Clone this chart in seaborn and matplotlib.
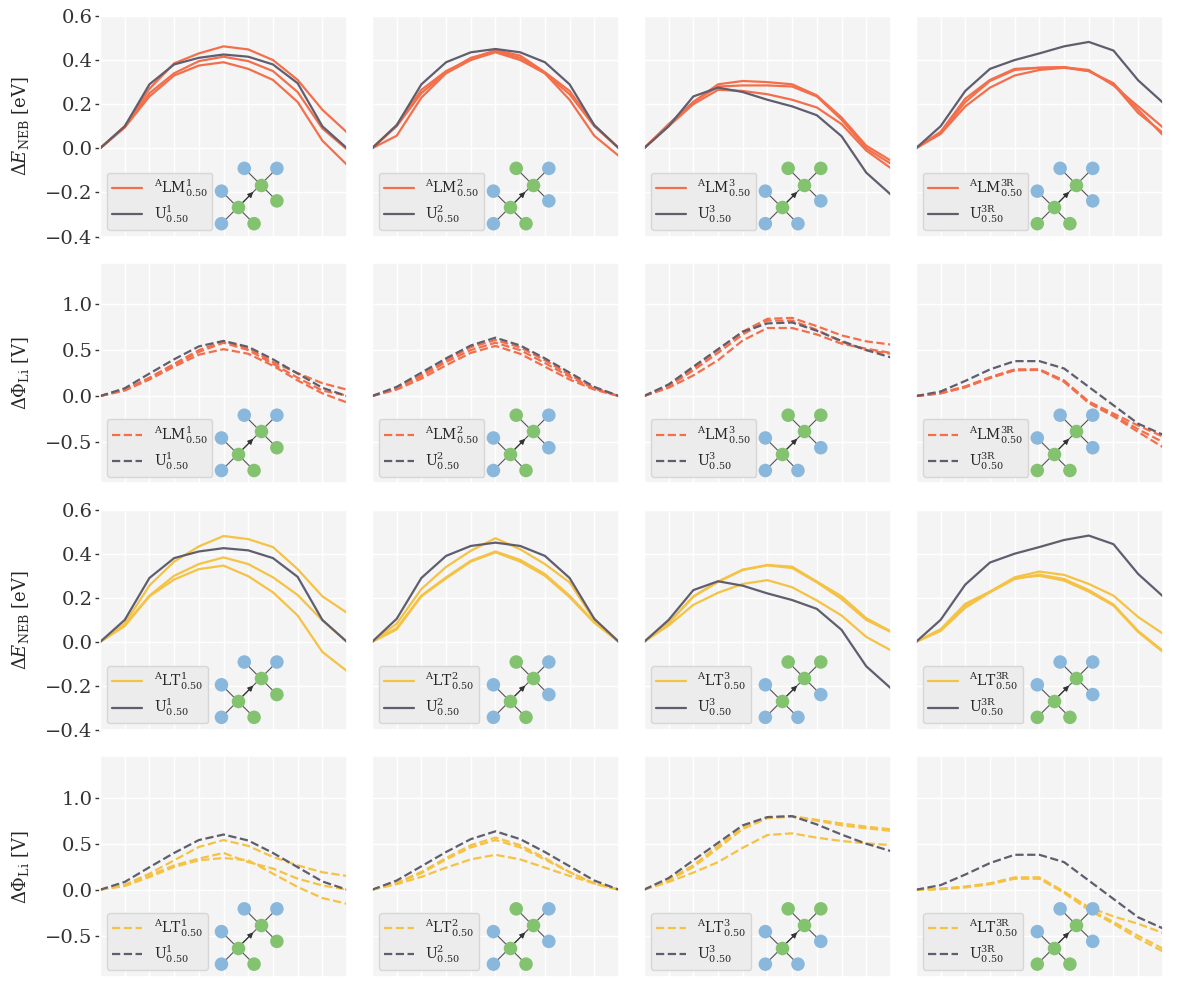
import matplotlib
matplotlib.use("Agg")
import matplotlib.pyplot as plt
from matplotlib.lines import Line2D
import seaborn as sns

# NEB image index along the hopping path
IMAGES = [0, 1, 2, 3, 4, 5, 6, 7, 8, 9, 10]
SYSTEMS = ["1", "2", "3", "3R"]

# --- energy barriers dE_NEB [eV] ---
E_U1 = [0, 0.10, 0.29, 0.38, 0.41, 0.425, 0.415, 0.38, 0.295, 0.10, 0.0]
E_U2 = [0, 0.105, 0.29, 0.39, 0.435, 0.45, 0.435, 0.39, 0.29, 0.105, 0.0]
E_U3 = [0, 0.10, 0.235, 0.275, 0.255, 0.22, 0.19, 0.15, 0.055, -0.11, -0.21]
E_U3R = [0, 0.10, 0.26, 0.36, 0.40, 0.43, 0.462, 0.482, 0.443, 0.308, 0.207]

E_LM1 = [[0, 0.10, 0.27, 0.385, 0.43, 0.462, 0.448, 0.40, 0.31, 0.175, 0.072],
         [0, 0.095, 0.25, 0.34, 0.395, 0.415, 0.395, 0.35, 0.255, 0.09, -0.005],
         [0, 0.095, 0.235, 0.33, 0.375, 0.39, 0.36, 0.31, 0.21, 0.035, -0.075]]
E_LM2 = [[0, 0.057, 0.23, 0.34, 0.40, 0.435, 0.40, 0.34, 0.22, 0.057, -0.035],
         [0, 0.10, 0.25, 0.345, 0.41, 0.44, 0.41, 0.34, 0.245, 0.10, 0.0],
         [0, 0.105, 0.265, 0.35, 0.405, 0.445, 0.42, 0.345, 0.26, 0.105, 0.0]]
E_LM3 = [[0, 0.11, 0.21, 0.29, 0.305, 0.30, 0.29, 0.24, 0.14, 0.012, -0.056],
         [0, 0.105, 0.21, 0.28, 0.285, 0.285, 0.28, 0.235, 0.13, 0.0, -0.07],
         [0, 0.10, 0.20, 0.265, 0.26, 0.245, 0.22, 0.185, 0.11, -0.01, -0.09]]
E_LM3R = [[0, 0.065, 0.19, 0.275, 0.33, 0.355, 0.365, 0.35, 0.29, 0.16, 0.07],
          [0, 0.07, 0.21, 0.305, 0.355, 0.365, 0.367, 0.355, 0.285, 0.19, 0.095],
          [0, 0.075, 0.225, 0.31, 0.36, 0.365, 0.368, 0.35, 0.295, 0.175, 0.06]]

E_LT1 = [[0, 0.083, 0.256, 0.364, 0.433, 0.48, 0.466, 0.43, 0.33, 0.207, 0.132],
         [0, 0.077, 0.21, 0.30, 0.353, 0.383, 0.353, 0.293, 0.213, 0.098, 0.0],
         [0, 0.072, 0.207, 0.283, 0.33, 0.346, 0.298, 0.225, 0.12, -0.045, -0.132]]
E_LT2 = [[0, 0.083, 0.24, 0.34, 0.413, 0.47, 0.42, 0.353, 0.27, 0.10, 0.0],
         [0, 0.063, 0.21, 0.293, 0.368, 0.41, 0.372, 0.308, 0.21, 0.09, 0.0],
         [0, 0.057, 0.207, 0.288, 0.364, 0.406, 0.364, 0.30, 0.203, 0.087, 0.0]]
E_LT3 = [[0, 0.087, 0.207, 0.274, 0.328, 0.349, 0.341, 0.274, 0.207, 0.108, 0.048],
         [0, 0.085, 0.205, 0.272, 0.326, 0.347, 0.335, 0.27, 0.195, 0.10, 0.045],
         [0, 0.075, 0.168, 0.223, 0.263, 0.28, 0.248, 0.188, 0.12, 0.023, -0.038]]
E_LT3R = [[0, 0.057, 0.165, 0.228, 0.293, 0.319, 0.304, 0.263, 0.21, 0.113, 0.038],
          [0, 0.057, 0.173, 0.228, 0.289, 0.30, 0.278, 0.228, 0.165, 0.045, -0.045],
          [0, 0.05, 0.155, 0.225, 0.285, 0.305, 0.285, 0.235, 0.17, 0.05, -0.04]]

# --- Li potential change dPhi_Li [V] ---
PHI_U1 = [0, 0.085, 0.245, 0.40, 0.54, 0.60, 0.535, 0.40, 0.245, 0.09, 0.0]
PHI_U2 = [0, 0.10, 0.255, 0.41, 0.55, 0.635, 0.55, 0.41, 0.255, 0.10, 0.0]
PHI_U3 = [0, 0.127, 0.32, 0.51, 0.70, 0.79, 0.80, 0.71, 0.60, 0.50, 0.42]
PHI_U3R = [0, 0.05, 0.165, 0.29, 0.38, 0.38, 0.30, 0.10, -0.10, -0.30, -0.42]

PHI_LM1 = [[0, 0.07, 0.20, 0.35, 0.50, 0.595, 0.52, 0.37, 0.25, 0.14, 0.07],
           [0, 0.07, 0.19, 0.34, 0.48, 0.58, 0.50, 0.35, 0.20, 0.06, 0.005],
           [0, 0.06, 0.18, 0.32, 0.45, 0.51, 0.46, 0.33, 0.17, 0.03, -0.07]]
PHI_LM2 = [[0, 0.085, 0.23, 0.39, 0.53, 0.61, 0.53, 0.39, 0.23, 0.09, 0.0],
           [0, 0.08, 0.215, 0.37, 0.50, 0.58, 0.50, 0.36, 0.21, 0.08, 0.0],
           [0, 0.07, 0.19, 0.335, 0.47, 0.545, 0.46, 0.32, 0.18, 0.07, 0.0]]
PHI_LM3 = [[0, 0.115, 0.30, 0.50, 0.70, 0.84, 0.85, 0.76, 0.66, 0.595, 0.56],
           [0, 0.105, 0.28, 0.47, 0.67, 0.82, 0.82, 0.72, 0.59, 0.50, 0.46],
           [0, 0.09, 0.225, 0.39, 0.605, 0.74, 0.74, 0.67, 0.57, 0.515, 0.47]]
PHI_LM3R = [[0, 0.035, 0.105, 0.205, 0.29, 0.29, 0.17, -0.06, -0.19, -0.32, -0.44],
            [0, 0.03, 0.10, 0.20, 0.285, 0.285, 0.16, -0.07, -0.21, -0.36, -0.50],
            [0, 0.03, 0.095, 0.195, 0.28, 0.285, 0.155, -0.075, -0.22, -0.39, -0.555]]

PHI_LT1 = [[0, 0.055, 0.175, 0.32, 0.465, 0.54, 0.476, 0.356, 0.265, 0.19, 0.15],
           [0, 0.047, 0.156, 0.265, 0.338, 0.40, 0.30, 0.23, 0.12, 0.047, 0.0],
           [0, 0.04, 0.138, 0.247, 0.32, 0.345, 0.32, 0.175, 0.03, -0.09, -0.153]]
PHI_LT2 = [[0, 0.076, 0.193, 0.345, 0.484, 0.567, 0.484, 0.345, 0.193, 0.065, 0.0],
           [0, 0.07, 0.18, 0.33, 0.46, 0.54, 0.46, 0.33, 0.19, 0.07, 0.0],
           [0, 0.06, 0.14, 0.24, 0.33, 0.38, 0.33, 0.24, 0.15, 0.07, 0.0]]
PHI_LT3 = [[0, 0.113, 0.266, 0.478, 0.675, 0.785, 0.80, 0.76, 0.72, 0.686, 0.657],
           [0, 0.10, 0.248, 0.45, 0.66, 0.777, 0.795, 0.75, 0.70, 0.668, 0.64],
           [0, 0.084, 0.186, 0.30, 0.456, 0.595, 0.613, 0.566, 0.53, 0.504, 0.485]]
PHI_LT3R = [[0, 0.01, 0.035, 0.07, 0.135, 0.135, -0.02, -0.19, -0.29, -0.37, -0.47],
            [0, 0.01, 0.03, 0.065, 0.125, 0.125, -0.03, -0.21, -0.35, -0.50, -0.64],
            [0, 0.005, 0.025, 0.06, 0.12, 0.12, -0.035, -0.22, -0.37, -0.53, -0.67]]

# --- hop schematic: two centres (arrow from first to second) + their neighbours ---
CENTER_X = [0.0, 1.4]
CENTER_Y = [0.0, 1.4]
NEIGH_X = [-1.0, -1.0, 1.0, 0.4, 2.4, 2.4]
NEIGH_Y = [1.0, -1.0, -1.0, 2.4, 2.4, 0.4]
NEIGH_OWNER = [0, 0, 0, 1, 1, 1]
NEIGH_KIND = {  # b = blue, g = green
    "1": ["b", "b", "g", "b", "b", "g"],
    "2": ["b", "b", "g", "g", "b", "b"],
    "3": ["b", "b", "b", "g", "g", "b"],
    "3R": ["b", "g", "g", "b", "b", "b"],
}

ORANGE = "#f36f4c"
YELLOW = "#f4c244"
GREY = "#5f5e6e"
BLUE = "#89b8dc"
GREEN = "#83c370"

sns.set_theme(style="darkgrid", rc={
    "axes.facecolor": "#f4f4f4",
    "grid.color": "white",
    "grid.linewidth": 1.0,
    "ytick.left": True,
    "ytick.major.size": 3.5,
    "ytick.major.width": 1.0,
    "ytick.color": "#333333",
    "ytick.major.pad": 2,
})
plt.rcParams["font.family"] = ["DejaVu Serif"]
plt.rcParams["mathtext.fontset"] = "dejavuserif"

rows = [
    ("E", "LM", [E_U1, E_U2, E_U3, E_U3R], [E_LM1, E_LM2, E_LM3, E_LM3R], ORANGE, "-"),
    ("PHI", "LM", [PHI_U1, PHI_U2, PHI_U3, PHI_U3R], [PHI_LM1, PHI_LM2, PHI_LM3, PHI_LM3R], ORANGE, "--"),
    ("E", "LT", [E_U1, E_U2, E_U3, E_U3R], [E_LT1, E_LT2, E_LT3, E_LT3R], YELLOW, "-"),
    ("PHI", "LT", [PHI_U1, PHI_U2, PHI_U3, PHI_U3R], [PHI_LT1, PHI_LT2, PHI_LT3, PHI_LT3R], YELLOW, "--"),
]

fig, axes = plt.subplots(4, 4, figsize=(11.77, 9.92), dpi=100)
fig.subplots_adjust(left=0.085, right=0.988, top=0.984, bottom=0.015,
                    wspace=0.101, hspace=0.118)


def draw_hop(ax, system):
    ins = ax.inset_axes([0.452, 0.0145, 0.3036, 0.339])
    ins.set_zorder(7)
    ins.set_xlim(-1.6, 3.0)
    ins.set_ylim(-1.6, 3.0)
    ins.axis("off")
    for nx, ny, owner in zip(NEIGH_X, NEIGH_Y, NEIGH_OWNER):
        ins.plot([CENTER_X[owner], nx], [CENTER_Y[owner], ny], color="#555555", lw=0.8, zorder=1)
    ins.plot(CENTER_X, CENTER_Y, color="#555555", lw=0.8, zorder=1)
    tip = (CENTER_X[0] + 0.68 * (CENTER_X[1] - CENTER_X[0]),
           CENTER_Y[0] + 0.68 * (CENTER_Y[1] - CENTER_Y[0]))
    ins.annotate("", xy=tip, xytext=(CENTER_X[0], CENTER_Y[0]),
                 arrowprops=dict(arrowstyle="-|>", color="#333333", lw=0.8,
                                 mutation_scale=8, shrinkA=0, shrinkB=0), zorder=2)
    cols = [BLUE if k == "b" else GREEN for k in NEIGH_KIND[system]]
    ins.scatter(NEIGH_X, NEIGH_Y, s=95, c=cols, linewidths=0, zorder=3)
    ins.scatter(CENTER_X, CENTER_Y, s=95, c=GREEN, linewidths=0, zorder=3)


for r, (qty, method, u_sets, m_sets, color, ls) in enumerate(rows):
    for c, system in enumerate(SYSTEMS):
        ax = axes[r, c]
        for vals in m_sets[c]:
            sns.lineplot(x=IMAGES, y=vals, ax=ax, color=color, linestyle=ls, linewidth=1.6)
        sns.lineplot(x=IMAGES, y=u_sets[c], ax=ax, color=GREY, linestyle=ls, linewidth=1.6)

        ax.set_xlim(0, 10)
        ax.set_xticks(IMAGES)
        ax.tick_params(axis="x", bottom=False, labelbottom=False)
        if qty == "E":
            ax.set_ylim(-0.4, 0.6)
            ax.set_yticks([-0.4, -0.2, 0.0, 0.2, 0.4, 0.6])
            ylab = r"$\Delta E_{\mathrm{NEB}}$ [eV]"
        else:
            ax.set_ylim(-0.95, 1.45)
            ax.set_yticks([-0.5, 0.0, 0.5, 1.0])
            ylab = r"$\Delta\Phi_{\mathrm{Li}}$ [V]"
        ax.set_xlabel("")
        if c == 0:
            ax.set_ylabel(ylab, fontsize=13)
            ax.yaxis.set_label_coords(-0.278, 0.5)
            ax.tick_params(axis="y", labelsize=14)
        else:
            ax.set_ylabel("")
            ax.tick_params(axis="y", left=False, labelleft=False)

        handles = [Line2D([0], [0], color=color, lw=1.6, linestyle=ls),
                   Line2D([0], [0], color=GREY, lw=1.6, linestyle=ls)]
        labels = [r"$^{\mathrm{A}}\mathrm{%s}^{\mathrm{%s}}_{0.50}$" % (method, system),
                  r"$\mathrm{U}^{\mathrm{%s}}_{0.50}$" % system]
        leg = ax.legend(handles, labels, loc="lower left", fontsize=10,
                        handlelength=2.2, labelspacing=0.35, borderpad=0.35,
                        frameon=True, facecolor="#ececec", edgecolor="#d6d6d6",
                        framealpha=1.0)
        draw_hop(ax, system)

fig.savefig("out.png", dpi=100)
